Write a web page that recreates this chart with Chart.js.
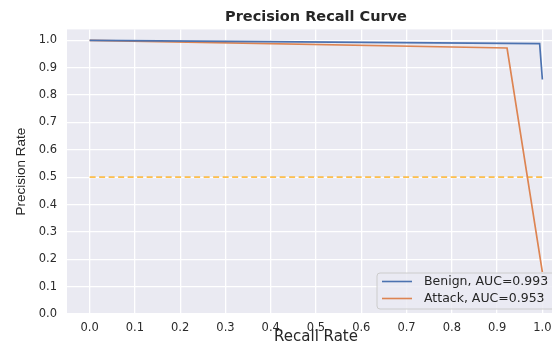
<!DOCTYPE html>
<html>
<head>
<meta charset="utf-8">
<script src="https://cdn.jsdelivr.net/npm/chart.js@4"></script>
<style>
  html, body { margin: 0; padding: 0; background: #fff; overflow: hidden; }
  #wrap { width: 580px; height: 349px; }
</style>
</head>
<body>
<div id="wrap"><canvas id="prChart" width="580" height="349"></canvas></div>
<script>
// values
const xTicks = [0, 0.1, 0.2, 0.3, 0.4, 0.5, 0.6, 0.7, 0.8, 0.9, 1.0];
const yTicks = [0, 0.1, 0.2, 0.3, 0.4, 0.5, 0.6, 0.7, 0.8, 0.9, 1.0];

const benignRecall = [0.0, 0.994, 1.0];
const benignPrecision = [1.0, 0.988, 0.857];

const attackRecall = [0.0, 0.922, 1.0];
const attackPrecision = [1.0, 0.972, 0.153];

const baselineRecall = [0.0, 1.0];
const baselinePrecision = [0.5, 0.5];

const seriesLabels = ['Benign, AUC=0.993', 'Attack, AUC=0.953'];

function toPoints(xs, ys) {
  return xs.map((x, i) => ({ x: x, y: ys[i] }));
}

const plotBackground = {
  id: 'plotBackground',
  beforeDraw(chart) {
    const { ctx, chartArea: a } = chart;
    ctx.save();
    ctx.fillStyle = '#EAEAF2';
    ctx.fillRect(a.left, a.top, a.right - a.left, a.bottom - a.top);
    ctx.restore();
  }
};

// legend in the lower right corner of the plot, like matplotlib's
const innerLegend = {
  id: 'innerLegend',
  afterDatasetsDraw(chart) {
    const ctx = chart.ctx;
    const a = chart.chartArea;
    const items = chart.data.datasets.filter(d => d.inLegend);
    const boxW = 183, rowH = 17;
    const boxH = 36;
    const x0 = a.right - 5 - boxW;
    const y0 = a.bottom - 5 - boxH;
    ctx.save();
    ctx.beginPath();
    ctx.roundRect(x0, y0, boxW, boxH, 3);
    ctx.fillStyle = 'rgba(234,234,242,0.8)';
    ctx.fill();
    ctx.strokeStyle = '#cccccc';
    ctx.lineWidth = 1;
    ctx.stroke();
    ctx.font = '12.5px "DejaVu Sans"';
    ctx.textBaseline = 'middle';
    ctx.fillStyle = '#262626';
    items.forEach((d, i) => {
      const y = y0 + 8.5 + i * rowH;
      ctx.beginPath();
      ctx.moveTo(x0 + 5, y);
      ctx.lineTo(x0 + 35, y);
      ctx.strokeStyle = d.borderColor;
      ctx.lineWidth = 1.6;
      ctx.stroke();
      ctx.fillText(d.label, x0 + 47, y + 0.5);
    });
    ctx.restore();
  }
};

new Chart(document.getElementById('prChart'), {
  type: 'scatter',
  data: {
    datasets: [
      {
        label: seriesLabels[0],
        inLegend: true,
        data: toPoints(benignRecall, benignPrecision),
        showLine: true,
        borderColor: '#4C72B0',
        borderWidth: 1.7,
        pointRadius: 0,
        tension: 0
      },
      {
        label: seriesLabels[1],
        inLegend: true,
        data: toPoints(attackRecall, attackPrecision),
        showLine: true,
        borderColor: '#DD8452',
        borderWidth: 1.7,
        pointRadius: 0,
        tension: 0
      },
      {
        label: 'baseline',
        inLegend: false,
        data: toPoints(baselineRecall, baselinePrecision),
        showLine: true,
        borderColor: 'rgba(255,165,0,0.7)',
        borderWidth: 1.6,
        borderDash: [6, 3.5],
        pointRadius: 0
      }
    ]
  },
  options: {
    responsive: false,
    animation: false,
    layout: { padding: { left: 0, right: 15, top: 0, bottom: 0 } },
    plugins: {
      legend: { display: false },
      tooltip: { enabled: false },
      title: {
        display: true,
        text: 'Precision Recall Curve',
        fullSize: false,
        color: '#262626',
        font: { family: '"DejaVu Sans"', size: 14.5, weight: 'bold' },
        padding: { top: 9, bottom: 3 }
      }
    },
    scales: {
      x: {
        type: 'linear',
        min: -0.05,
        max: 1.05,
        afterBuildTicks: s => { s.ticks = xTicks.map(v => ({ value: v })); },
        afterFit: s => { s.height = 35; },
        grid: { color: '#ffffff', lineWidth: 1.3, drawTicks: false },
        border: { display: false },
        ticks: {
          padding: 7,
          color: '#2b2b2b',
          font: { family: '"DejaVu Sans"', size: 11.5 },
          callback: v => v.toFixed(1)
        },
        title: {
          display: true,
          text: 'Recall Rate',
          color: '#262626',
          font: { family: '"DejaVu Sans"', size: 15 },
          padding: { top: 0, bottom: 3 }
        }
      },
      y: {
        type: 'linear',
        min: 0,
        max: 1.04,
        afterBuildTicks: s => { s.ticks = yTicks.map(v => ({ value: v })); },
        afterFit: s => { s.width = 67; },
        grid: { color: '#ffffff', lineWidth: 1.3, drawTicks: false },
        border: { display: false },
        ticks: {
          padding: 10,
          color: '#2b2b2b',
          font: { family: '"DejaVu Sans"', size: 11.5 },
          callback: v => v.toFixed(1)
        },
        title: {
          display: true,
          text: 'Precision Rate',
          color: '#262626',
          font: { family: '"Liberation Sans"', size: 13.5 },
          padding: { top: 13, bottom: 0 }
        }
      }
    }
  },
  plugins: [plotBackground, innerLegend]
});
</script>
</body>
</html>
